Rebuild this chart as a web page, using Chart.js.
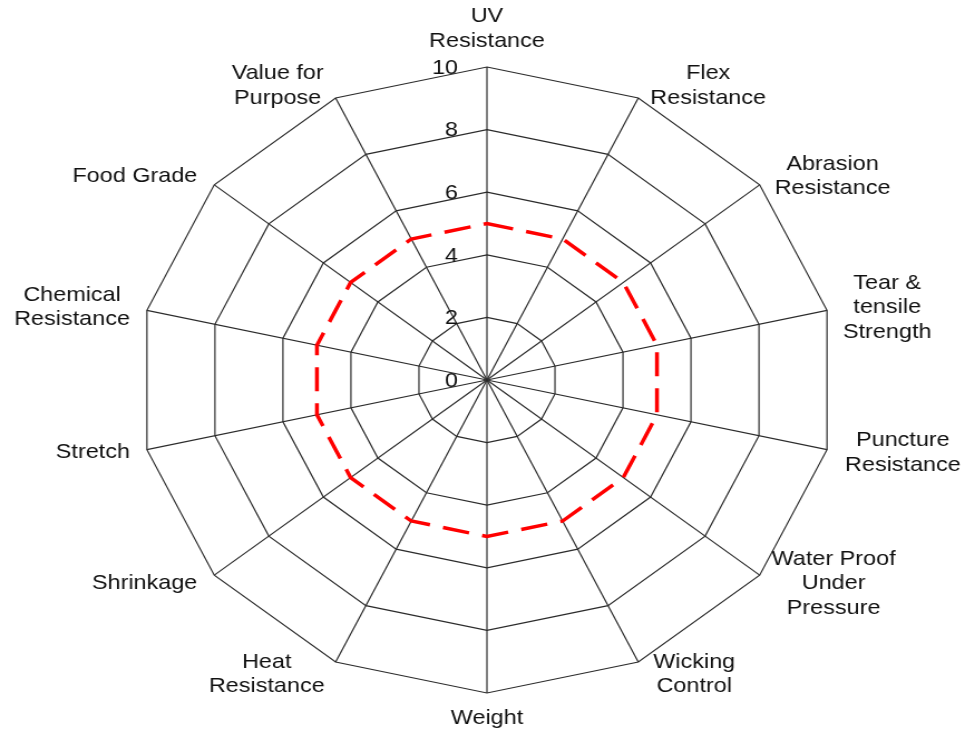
<!DOCTYPE html>
<html>
<head>
<meta charset="utf-8">
<script src="https://cdn.jsdelivr.net/npm/chart.js@4/dist/chart.umd.min.js"></script>
<style>
  html, body { margin: 0; padding: 0; background: #fff; overflow: hidden; }
  /* the original picture is stretched sideways, so the whole canvas is too */
  #wrap { width: 866px; height: 730px; transform: scaleX(1.1143); transform-origin: 0 0; }
</style>
</head>
<body>
<div id="wrap"><canvas id="chart" width="866" height="730"></canvas></div>
<script>
const categories = [
  ["UV", "Resistance"],
  ["Flex", "Resistance"],
  ["Abrasion", "Resistance"],
  ["Tear &", "tensile", "Strength"],
  ["Puncture", "Resistance"],
  ["Water Proof", "Under", "Pressure"],
  ["Wicking", "Control"],
  ["Weight"],
  ["Heat", "Resistance"],
  ["Shrinkage"],
  ["Stretch"],
  ["Chemical", "Resistance"],
  ["Food Grade"],
  ["Value for", "Purpose"]
];
const scores = [5, 5, 5, 5, 5, 5, 5, 5, 5, 5, 5, 5, 5, 5];
const tickValues = [0, 2, 4, 6, 8, 10];

const FONT = "21px 'Liberation Sans', Arial, sans-serif";
const LINE_H = 24.5;
// horizontal gap between a spoke's tip and its label (screen px)
const labelGap = [0, 12, 15, 16, 18, 12, 15, 0, 11, 17, 17, 17, 17, 12];

// tick numbers just left of the vertical axis, and centred multi-line labels
const labelsPlugin = {
  id: "labelsPlugin",
  afterDraw(chart) {
    const s = chart.scales.r;
    const ctx = chart.ctx;
    ctx.save();
    ctx.font = FONT;
    ctx.fillStyle = "#111";
    ctx.textBaseline = "middle";

    ctx.textAlign = "right";
    tickValues.forEach((v) => {
      const d = s.getDistanceFromCenterForValue(v);
      ctx.fillText(String(v), s.xCenter - 26, s.yCenter - d + 1);
    });

    ctx.textAlign = "center";
    const n = categories.length;
    categories.forEach((lines, i) => {
      const blockW = Math.max(...lines.map((t) => ctx.measureText(t).width));
      const blockH = lines.length * LINE_H;
      const tip = s.getPointPosition(i, s.drawingArea);
      const gap = labelGap[i] / 1.1143;
      const dy = -Math.cos(tip.angle + Math.PI / 2) * 13.5;
      let left, top;
      if (i === 0) {
        left = tip.x - blockW / 2;
        top = tip.y - 14 - blockH;
      } else if (i === n / 2) {
        left = tip.x - blockW / 2;
        top = tip.y + 13;
      } else if (i < n / 2) {
        left = tip.x + gap;
        top = tip.y + dy - blockH / 2;
      } else {
        left = tip.x - gap - blockW;
        top = tip.y + dy - blockH / 2;
      }
      lines.forEach((t, k) => {
        ctx.fillText(t, left + blockW / 2, top + LINE_H * (k + 0.5));
      });
    });
    ctx.restore();
  }
};

new Chart(document.getElementById("chart"), {
  type: "radar",
  data: {
    labels: categories,
    datasets: [{
      data: scores,
      borderColor: "#ff0000",
      borderWidth: 3.5,
      borderDash: [24, 12],
      fill: false,
      pointRadius: 0,
      pointHoverRadius: 0,
      tension: 0
    }]
  },
  options: {
    responsive: false,
    animation: false,
    layout: { padding: { top: 67, bottom: 37, left: 124, right: 116 } },
    plugins: { legend: { display: false }, tooltip: { enabled: false } },
    scales: {
      r: {
        min: 0,
        max: 10,
        ticks: { stepSize: 2, display: false },
        grid: { color: "#2b2b2b", lineWidth: 1.2 },
        angleLines: { color: "#2b2b2b", lineWidth: 1.2 },
        pointLabels: { display: false }
      }
    }
  },
  plugins: [labelsPlugin]
});
</script>
</body>
</html>
